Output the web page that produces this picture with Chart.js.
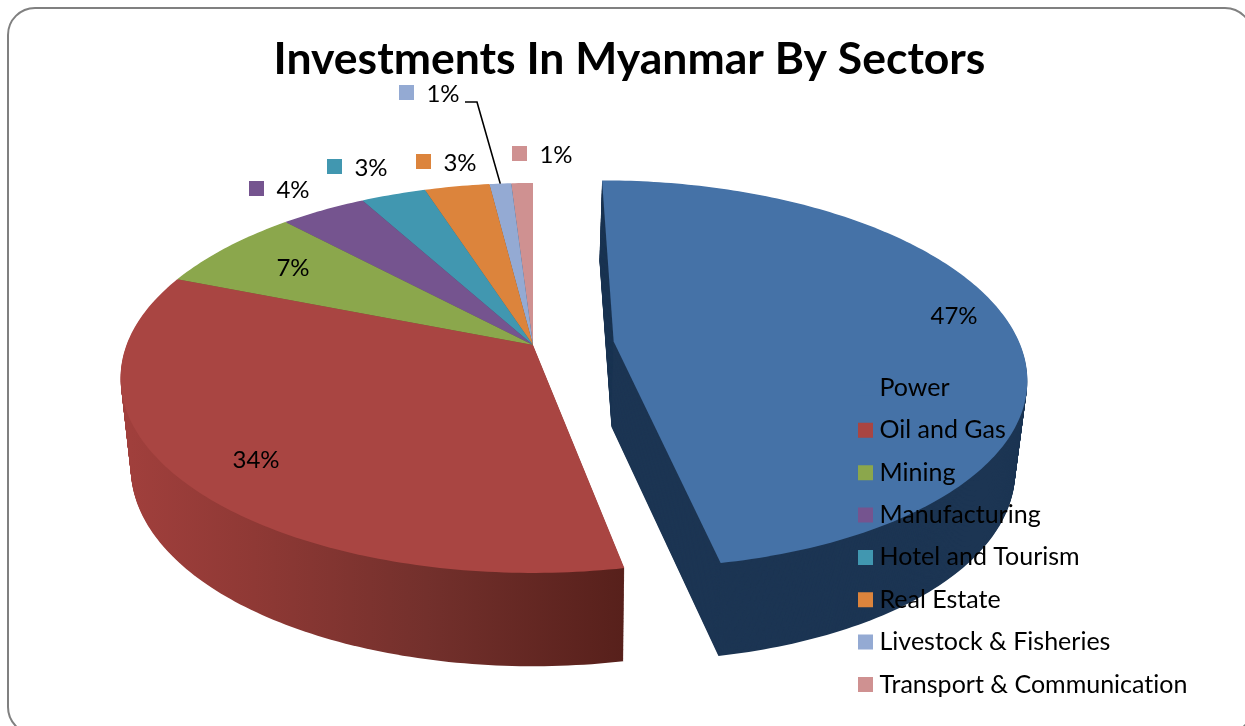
<!DOCTYPE html>
<html>
<head>
<meta charset="utf-8">
<title>Investments In Myanmar By Sectors</title>
<script src="https://cdn.jsdelivr.net/npm/chart.js@4"></script>
<style>
    html, body { margin: 0; padding: 0; background: #fff; overflow: hidden; }
    #wrap { position: relative; width: 1245px; height: 726px; overflow: hidden; }
    #card { position: absolute; left: 7px; top: 7px; width: 1246px; height: 728px;
            border: 2.5px solid #808080; border-radius: 28px; box-sizing: border-box; }
    #sectorChart { position: absolute; left: 0; top: 0; }
</style>
</head>
<body>
<div id="wrap">
    <div id="card"></div>
    <canvas id="sectorChart" width="1245" height="726"></canvas>
</div>
<script>
const sectors = ['Power', 'Oil and Gas', 'Mining', 'Manufacturing', 'Hotel and Tourism', 'Real Estate', 'Livestock & Fisheries', 'Transport & Communication'];
const shares = [47, 34, 7, 4, 3, 3, 1, 1];
const sliceColors = ['#4572a7', '#a94542', '#8ba74c', '#75548f', '#4197b0', '#dc843c', '#94aad3', '#cf9191'];
const wallColors = ['#1c3553', '#7a2e2b', '#5f7334', '#503a63', '#2b6879', '#985a28', '#667690', '#8f6464'];
const explode = [0.2, 0, 0, 0, 0, 0, 0, 0]; // pulled out, as a fraction of the radius

// text centre of each percentage label, keys only on the ones outside the pie
const labelSpots = [[954, 316], [256, 460], [293, 268], [293, 190], [371, 168], [460, 163], [443, 94], [556, 155]];
const labelHasKey = [false, false, false, true, true, true, true, true];

// pie plane seen in perspective: unit circle -> screen
const view = { x: 533, y: 345, a: 406.5, b: 189.4, k: 0.169 };

function project(u, v) {
    const d = 1 - view.k * v;
    return { x: view.x + view.a * u / d, y: view.y + view.b * v / d };
}

// t = 0 is the top face, t = 1 the bottom face of the disc
function extrude(p, t) {
    const drop = 80 + (p.y - 181) * 0.034;
    const shrink = 0.975 + (p.y - 375) * 0.00007;
    return { x: view.x + (p.x - view.x) * (1 - t * (1 - shrink)), y: p.y + t * drop };
}

function slicePoints(arc, index) {
    const mid = (arc.startAngle + arc.endAngle) / 2;
    const du = Math.cos(mid) * explode[index];
    const dv = Math.sin(mid) * explode[index];
    const pts = [project(du, dv)];
    const steps = Math.max(6, Math.ceil((arc.endAngle - arc.startAngle) * 60));
    for (let i = 0; i <= steps; i++) {
        const a = arc.startAngle + (arc.endAngle - arc.startAngle) * i / steps;
        pts.push(project(du + Math.cos(a), dv + Math.sin(a)));
    }
    return pts;
}

function fillPoly(ctx, pts, t, style) {
    ctx.beginPath();
    pts.forEach((p, i) => {
        const q = extrude(p, t);
        if (i === 0) ctx.moveTo(q.x, q.y); else ctx.lineTo(q.x, q.y);
    });
    ctx.closePath();
    ctx.fillStyle = style;
    ctx.fill();
}

function wallStyle(ctx, index) {
    if (index === 1) {
        const g = ctx.createLinearGradient(130, 0, 625, 0);
        g.addColorStop(0, '#a03f3c');
        g.addColorStop(0.25, '#8f3935');
        g.addColorStop(0.6, '#73302c');
        g.addColorStop(1, '#57201b');
        return g;
    }
    return wallColors[index];
}

// draws the disc before the title and legend so those sit on top of it
const pie3d = {
    id: 'pie3d',
    afterLayout(chart) {
        const legend = chart.legend;
        const pad = legend.options.labels.padding;
        const w = legend.width, h = legend.height;
        legend.left = 864 - pad;
        legend.right = legend.left + w;
        legend.top = 375.5 - pad;
        legend.bottom = legend.top + h;
    },
    beforeDraw(chart) {
        const ctx = chart.ctx;
        const arcs = chart.getDatasetMeta(0).data;
        ctx.textRendering = 'optimizeSpeed'; // no ti ligature in the labels
        ctx.save();
        // back slices first, Oil and Gas and Power last
        for (let i = arcs.length - 1; i >= 0; i--) {
            const pts = slicePoints(arcs[i], i);
            const wall = wallStyle(ctx, i);
            for (let n = 100; n > 0; n--) fillPoly(ctx, pts, n / 100, wall);
            fillPoly(ctx, pts, 0, sliceColors[i]);
        }
        ctx.restore();
    },
    beforeDatasetDraw() {
        return false;
    },
    afterDatasetsDraw(chart) {
        const ctx = chart.ctx;
        const arcs = chart.getDatasetMeta(0).data;
        ctx.save();
        // leader line of the Livestock & Fisheries label
        const liveMid = (arcs[6].startAngle + arcs[6].endAngle) / 2;
        const end = project(Math.cos(liveMid), Math.sin(liveMid));
        ctx.strokeStyle = '#000';
        ctx.lineWidth = 1.6;
        ctx.beginPath();
        ctx.moveTo(465, 102);
        ctx.lineTo(477, 102);
        ctx.lineTo(end.x, end.y);
        ctx.stroke();

        ctx.font = '24px Lato';
        ctx.textAlign = 'center';
        ctx.textBaseline = 'middle';
        shares.forEach((value, i) => {
            const [x, y] = labelSpots[i];
            if (labelHasKey[i]) {
                ctx.fillStyle = sliceColors[i];
                ctx.fillRect(x - 44, y - 9, 15, 15);
            }
            ctx.fillStyle = '#000';
            ctx.fillText(value + '%', x, y);
        });
        ctx.restore();
    }
};

new Chart(document.getElementById('sectorChart'), {
    type: 'pie',
    data: {
        labels: sectors,
        datasets: [{
            data: shares,
            backgroundColor: sliceColors,
            borderWidth: 0
        }]
    },
    plugins: [pie3d],
    options: {
        responsive: false,
        animation: false,
        layout: { padding: { left: 14 } },
        plugins: {
            tooltip: { enabled: false },
            title: {
                display: true,
                text: 'Investments In Myanmar By Sectors',
                color: '#000',
                font: { family: 'Lato', size: 44.5, weight: 'bold' },
                padding: { top: 33, bottom: 10 }
            },
            legend: {
                display: true,
                position: 'right',
                align: 'start',
                labels: {
                    color: '#000',
                    font: { family: 'Lato', size: 25 },
                    usePointStyle: true,
                    pointStyle: 'rect',
                    boxWidth: 3,
                    boxHeight: 15,
                    padding: 17.35
                }
            }
        }
    }
});
</script>
</body>
</html>
